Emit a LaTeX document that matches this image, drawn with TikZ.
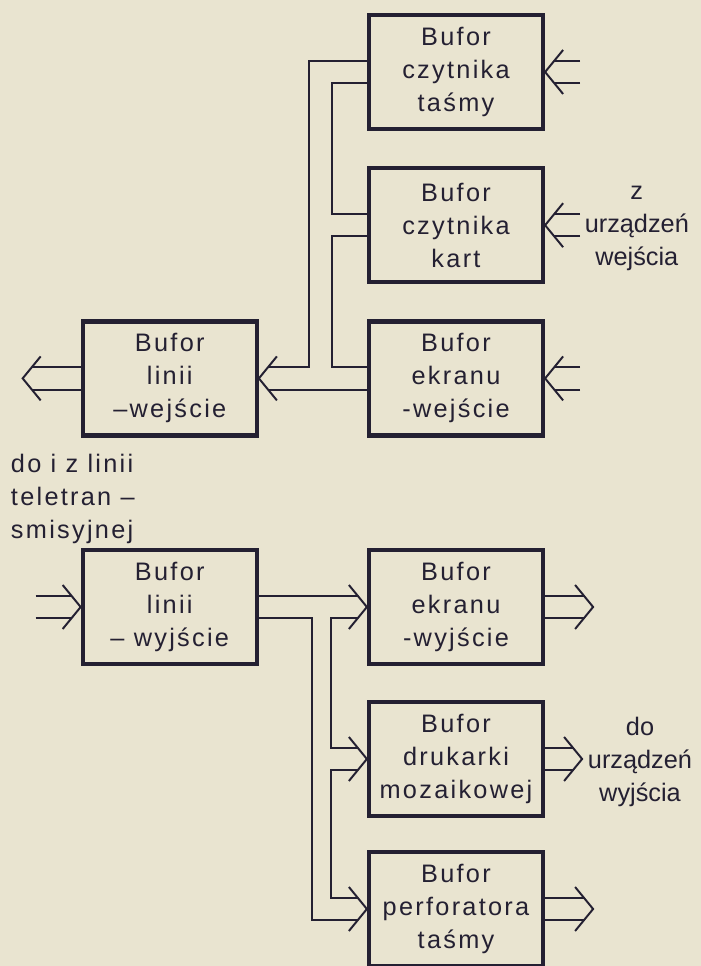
\documentclass[tikz,border=0pt]{standalone}
\usepackage{fontspec}
\setmainfont{Liberation Sans}[LetterSpace=9]
\newfontfamily\plainfont{Liberation Sans}
\usetikzlibrary{positioning}

\definecolor{paper}{RGB}{233,228,208}
\definecolor{ink}{RGB}{36,32,50}
\newcommand{\busw}{0.28cm}% half width of a bus
\newcommand{\armx}{0.23cm}% where a bus line meets the arrow arm

\begin{document}
\begin{tikzpicture}[color=ink,font=\fontsize{18}{23.5}\selectfont,
  box/.style={draw,line width=3pt,minimum width=4.35cm,minimum height=2.85cm,align=center,inner sep=2pt},
  wire/.style={draw,line width=1.4pt},
  side/.style={align=center,font=\plainfont\fontsize{18}{23.5}\selectfont},
  vtip/.pic={\draw[wire] (-0.45,0.55) -- (0,0) -- (-0.45,-0.55);}]
\fill[paper] (0,0) rectangle (17.525,24.15);
\useasboundingbox (0,0) rectangle (17.525,24.15);

% input side
\node[box] (tasmy) at (11.4,22.35) {Bufor\\czytnika\\taśmy};
\node[box] (kart) at (11.4,18.52) {Bufor\\czytnika\\kart};
\node[box] (ekranwe) at (11.4,14.69) {Bufor\\ekranu\\-wejście};
\node[box,left=2.7cm of ekranwe] (liniiwe) {Bufor\\linii\\–wejście};

% output side
\node[box] (ekranwy) at (11.4,8.975) {Bufor\\ekranu\\-wyjście};
\node[box,left=2.7cm of ekranwy] (liniiwy) {Bufor\\linii\\– wyjście};
\node[box] (druk) at (11.4,5.175) {Bufor\\drukarki\\mozaikowej};
\node[box] (perf) at (11.4,1.425) {Bufor\\perforatora\\taśmy};

\node[side] (zwe) at (15.92,18.45) {z\\urządzeń\\wejścia};
\node[side] (dowy) at (16.0,5.1) {do\\urządzeń\\wyjścia};
\node[align=left,anchor=west] (tele) at (0.15,11.675) {do i z linii\\teletran –\\smisyjnej};

% buses from the input devices
\foreach \b in {tasmy,kart,ekranwe}{
  \coordinate (\b-in) at ([xshift=0.875cm]\b.east);
  \draw[wire] ([yshift=\busw]\b-in) -- ([xshift=\armx,yshift=\busw]\b.east);
  \draw[wire] ([yshift=-\busw]\b-in) -- ([xshift=\armx,yshift=-\busw]\b.east);
  \pic[rotate=180] at (\b.east) {vtip};
}

% collecting bus into the line buffer
\draw[wire] ([yshift=\busw]tasmy.west) -| ([xshift=1.25cm,yshift=\busw]liniiwe.east)
  -- ([xshift=\armx,yshift=\busw]liniiwe.east);
\draw[wire] ([yshift=-\busw]tasmy.west) -- ++(-0.875,0) |- ([yshift=\busw]kart.west);
\draw[wire] ([yshift=-\busw]kart.west) -- ++(-0.875,0) |- ([yshift=\busw]ekranwe.west);
\draw[wire] ([yshift=-\busw]ekranwe.west) -- ([xshift=\armx,yshift=-\busw]liniiwe.east);
\pic[rotate=180] at (liniiwe.east) {vtip};

% to and from the line
\coordinate (tele-out) at ([xshift=-1.45cm]liniiwe.west);
\draw[wire] ([yshift=\busw]liniiwe.west) -- ([xshift=\armx,yshift=\busw]tele-out);
\draw[wire] ([yshift=-\busw]liniiwe.west) -- ([xshift=\armx,yshift=-\busw]tele-out);
\pic[rotate=180] at (tele-out) {vtip};
\coordinate (tele-in) at ([xshift=-1.125cm]liniiwy.west);
\draw[wire] ([yshift=\busw]tele-in) -- ([xshift=-\armx,yshift=\busw]liniiwy.west);
\draw[wire] ([yshift=-\busw]tele-in) -- ([xshift=-\armx,yshift=-\busw]liniiwy.west);
\pic at (liniiwy.west) {vtip};

% distributing bus
\draw[wire] ([yshift=\busw]liniiwy.east) -- ([xshift=-\armx,yshift=\busw]ekranwy.west);
\draw[wire] ([yshift=-\busw]liniiwy.east) -- ++(1.325,0) |- ([xshift=-\armx,yshift=-\busw]perf.west);
\draw[wire] ([xshift=-\armx,yshift=-\busw]ekranwy.west) -- ++(-0.675,0) |- ([xshift=-\armx,yshift=\busw]druk.west);
\draw[wire] ([xshift=-\armx,yshift=-\busw]druk.west) -- ++(-0.675,0) |- ([xshift=-\armx,yshift=\busw]perf.west);

% buses to the output devices
\foreach \b/\l in {ekranwy/1.2cm,druk/0.925cm,perf/1.2cm}{
  \pic at (\b.west) {vtip};
  \coordinate (\b-out) at ([xshift=\l]\b.east);
  \draw[wire] ([yshift=\busw]\b.east) -- ([xshift=-\armx,yshift=\busw]\b-out);
  \draw[wire] ([yshift=-\busw]\b.east) -- ([xshift=-\armx,yshift=-\busw]\b-out);
  \pic at (\b-out) {vtip};
}
\end{tikzpicture}
\end{document}
